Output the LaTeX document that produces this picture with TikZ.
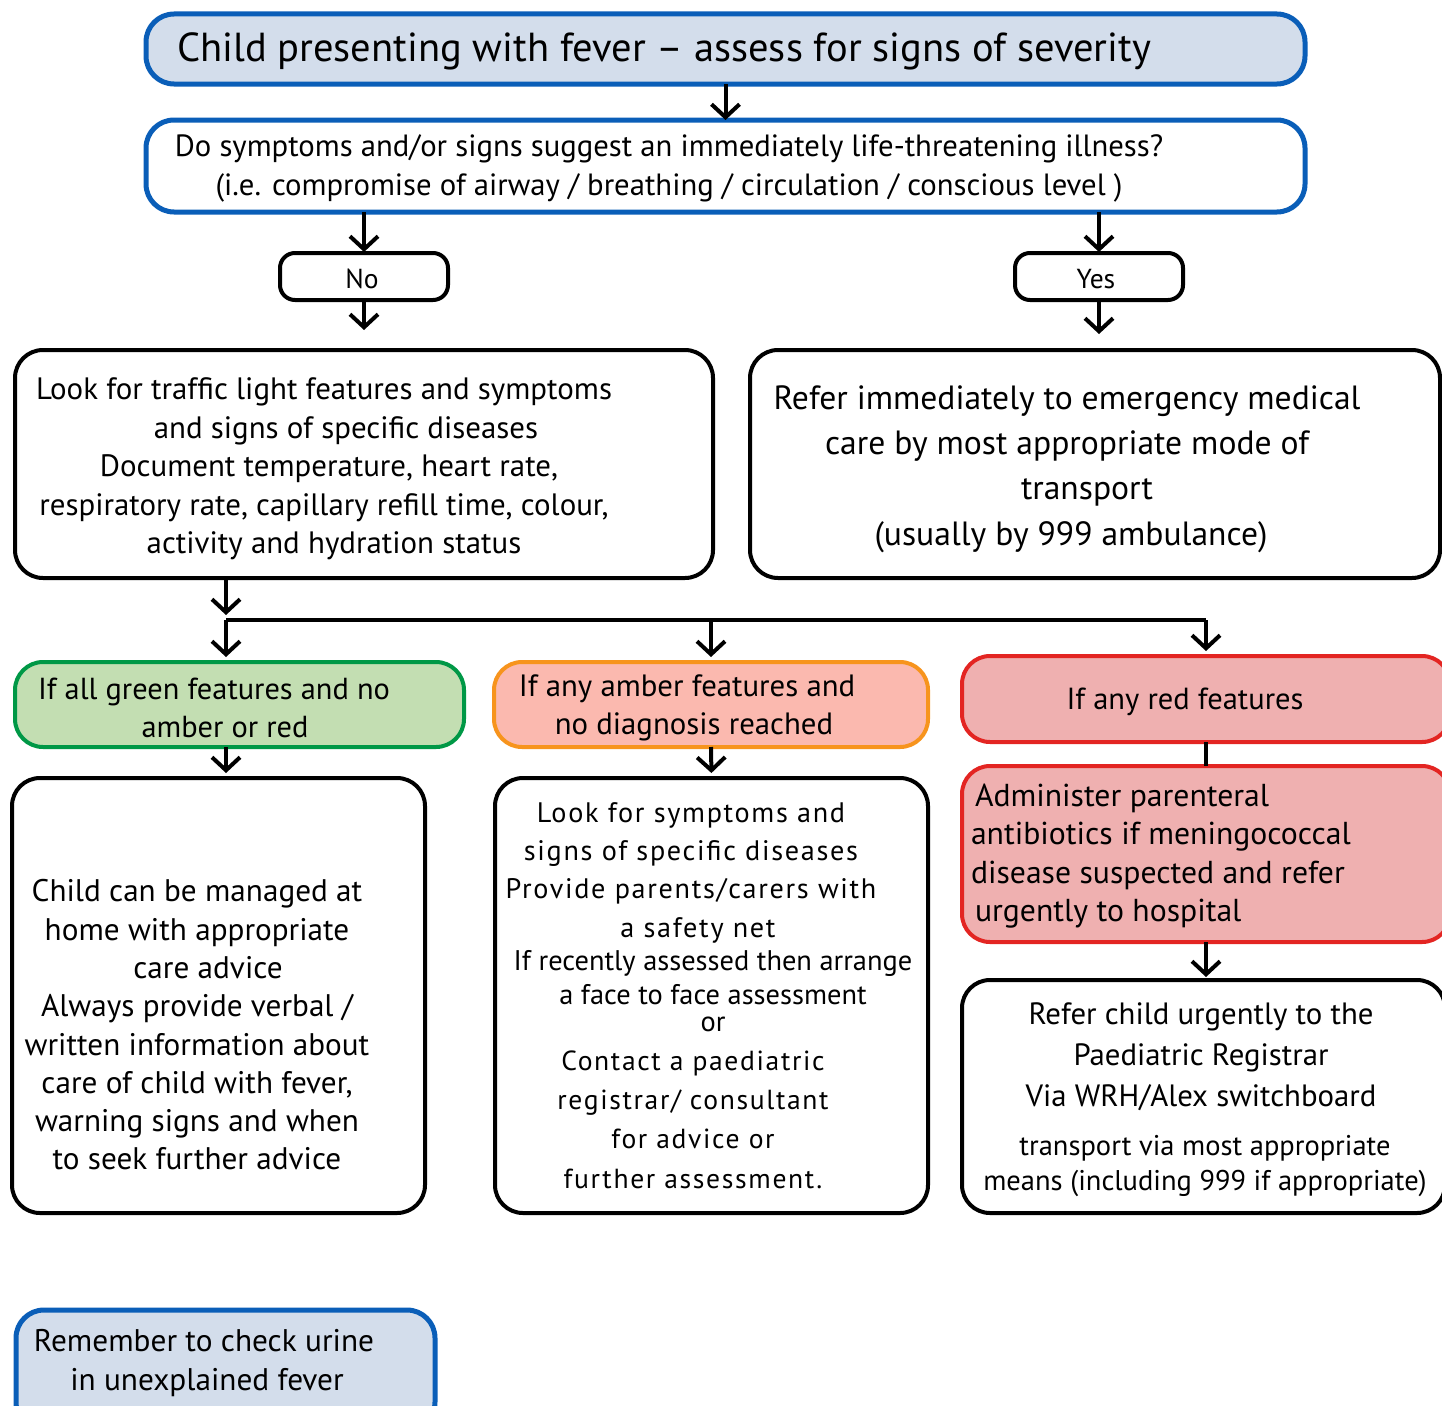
\documentclass[tikz,border=0pt]{standalone}
\usepackage{fontspec}
\setmainfont{PT Sans}
\newfontfamily\spaced[LetterSpace=6]{PT Sans}
\usetikzlibrary{arrows.meta}
\definecolor{cblue}{RGB}{10,94,184}
\definecolor{tfill}{RGB}{211,221,235}
\definecolor{gfill}{RGB}{195,222,178}
\definecolor{gline}{RGB}{0,152,70}
\definecolor{afill}{RGB}{251,185,175}
\definecolor{aline}{RGB}{247,148,29}
\definecolor{rfill}{RGB}{239,176,176}
\definecolor{rline}{RGB}{227,37,34}
\newcommand{\fs}[2]{\fontsize{#1}{#2}\selectfont}
\tikzset{
  bx/.style={draw=black, line width=4pt, rounded corners=28pt, inner sep=0pt, outer sep=0pt, fill=white},
  bluebx/.style={bx, draw=cblue, line width=5pt},
  smallbx/.style={bx, rounded corners=15pt},
  greenbx/.style={bx, draw=gline, fill=gfill},
  amberbx/.style={bx, draw=aline, fill=afill},
  redbx/.style={bx, draw=rline, fill=rfill},
  txt/.style={align=center, inner sep=0pt, outer sep=0pt},
  arr/.style={line width=4pt, -{Straight Barb[length=13pt, width=28pt]}},
  ln/.style={line width=4pt},
}
\begin{document}
\begin{tikzpicture}[x=1pt,y=-1pt]
\useasboundingbox (0,0) rectangle (1442,1405);
% boxes
\node[bluebx, fill=tfill, minimum width=1159pt, minimum height=70pt] (title) at (725.5,49) {};
\node[bluebx, minimum width=1159pt, minimum height=92pt] (q) at (725.5,166) {};
\node[smallbx, minimum width=168pt, minimum height=47pt] (no) at (364,276.5) {};
\node[smallbx, minimum width=168pt, minimum height=47pt] (yes) at (1099,276.5) {};
\node[bx, minimum width=698pt, minimum height=228pt] (lbox) at (364,464) {};
\node[bx, minimum width=690pt, minimum height=228pt] (rbox) at (1095,464) {};
\node[greenbx, minimum width=449pt, minimum height=85pt] (green) at (239.5,704.5) {};
\node[amberbx, minimum width=434pt, minimum height=85pt] (amber) at (711,704.5) {};
\node[redbx, minimum width=488pt, minimum height=86pt] (red) at (1206,699) {};
\node[redbx, minimum width=488pt, minimum height=176pt] (admin) at (1206,854) {};
\node[bx, minimum width=413pt, minimum height=435pt] (blbox) at (218.5,995.5) {};
\node[bx, minimum width=433pt, minimum height=435pt] (mbox) at (711.5,995.5) {};
\node[bx, minimum width=483pt, minimum height=233pt] (brbox) at (1203.5,1096.5) {};
\node[bluebx, fill=tfill, minimum width=419pt, minimum height=120pt] (rem) at (225.5,1370) {};
% texts
\node[txt, font=\fs{40.5}{46}] (ttitle) at (664,51) {Child presenting with fever -- assess for signs of severity};
\node[txt, font=\fs{30.7}{39}] (tq) at (669,168) {Do symptoms and/or signs suggest an immediately life-threatening illness?\\(i.e. compromise of airway / breathing / circulation / conscious level )};
\node[txt, font=\fs{27.5}{30}] (tno) at (362,279) {No};
\node[txt, font=\fs{27.5}{30}] (tyes) at (1096,279) {Yes};
\node[txt, font=\fs{30.9}{38.6}] (tl) at (324,469) {Look for traffic light features and symptoms\\\hspace*{44pt}and signs of specific diseases\\\hspace*{10pt}Document temperature, heart rate,\\respiratory rate, capillary refill time, colour,\\\hspace*{20pt}activity and hydration status};
\node[txt, font=\fs{33.6}{45.3}] (tr) at (1067,469) {Refer immediately to emergency medical\\care by most appropriate mode of\\\hspace*{40pt}transport\\\hspace*{8pt}(usually by 999 ambulance)};
\node[txt, font=\fs{30.4}{38.5}] (tg) at (214,708) {If all green features and no\\\hspace*{22pt}amber or red};
\node[txt, font=\fs{30.8}{38.5}] (ta) at (687,708) {If any amber features and\\\hspace*{14pt}no diagnosis reached};
\node[txt, font=\fs{30.5}{38.5}] (tred) at (1185,702) {If any red features};
\node[txt, align=left, anchor=west, font=\fs{31.7}{38.4}] (tadm) at (971,856) {\hspace*{4pt}Administer parenteral\\antibiotics if meningococcal\\disease suspected and refer\\\hspace*{4pt}urgently to hospital};
\node[txt, font=\fs{31.2}{38.3}] (tbl) at (197,1025) {Child can be managed at\\home with appropriate\\\hspace*{22pt}care advice\\Always provide verbal /\\written information about\\care of child with fever,\\warning signs and when\\to seek further advice};
\node[txt, font=\spaced\fs{28.2}{38.3}] (tm1) at (691,872.5) {Look for symptoms and\\signs of specific diseases\\Provide parents/carers with\\\hspace*{14pt}a safety net};
\node[txt, font=\fs{28.4}{34}] (tm2) at (713,991) {If recently assessed then arrange\\a face to face assessment\\[-7pt]or};
\node[txt, font=\spaced\fs{27.6}{39.3}] (tm3) at (693,1119.5) {Contact a paediatric\\registrar/ consultant\\for advice or\\further assessment.};
\node[txt, font=\fs{30.8}{41}] (tbr1) at (1201,1057) {Refer child urgently to the\\Paediatric Registrar\\Via WRH/Alex switchboard};
\node[txt, font=\fs{28.5}{35}] (tbr2) at (1205,1166.5) {transport via most appropriate\\means (including 999 if appropriate)};
\node[txt, font=\fs{31.3}{39}] (trem) at (204,1363) {Remember to check urine\\\hspace*{6pt}in unexplained fever};
% connectors
\coordinate (split) at (226,620);
\draw[arr] (title.south) -- (q.north);
\draw[arr, shorten >=1pt] (no.north |- q.south) -- (no.north);
\draw[arr, shorten >=1pt] (yes.north |- q.south) -- (yes.north);
\draw[arr, shorten >=20pt] (no.south) -- (lbox.north);
\draw[arr, shorten >=16pt] (yes.south) -- (yes.south |- rbox.north);
\draw[arr, shorten >=5pt] (split |- lbox.south) -- (split);
\draw[ln] (split) -- (split -| red.north);
\draw[arr, shorten >=5pt] (split) -- (split |- green.north);
\draw[arr, shorten >=5pt] (split -| amber.north) -- (amber.north);
\draw[arr, shorten >=5pt] (split -| red.north) -- (red.north);
\draw[arr, shorten >=5pt] (split |- green.south) -- (split |- blbox.north);
\draw[arr, shorten >=5pt] (amber.south) -- (mbox.north);
\draw[ln] (red.south) -- (admin.north);
\draw[arr, shorten >=3pt] (admin.south) -- (admin.south |- brbox.north);
\end{tikzpicture}
\end{document}
